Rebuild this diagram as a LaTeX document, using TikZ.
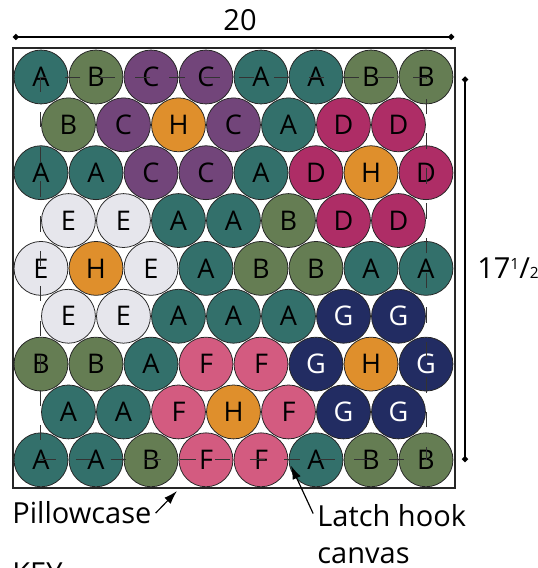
\documentclass[tikz,border=0pt]{standalone}
\usepackage{fontspec}
\setmainfont{Open Sans}
\usetikzlibrary{arrows.meta}

\definecolor{yarnA}{HTML}{33706B}
\definecolor{yarnB}{HTML}{657D53}
\definecolor{yarnC}{HTML}{72457A}
\definecolor{yarnD}{HTML}{AE2D66}
\definecolor{yarnE}{HTML}{E6E6EC}
\definecolor{yarnF}{HTML}{D35B80}
\definecolor{yarnG}{HTML}{222C62}
\definecolor{yarnH}{HTML}{DF8F2C}

\tikzset{
  bead/.style={circle, draw=black!85, line width=0.4pt, minimum size=0.98cm,
    inner sep=0pt, font=\fontsize{14}{16}\selectfont},
  beadA/.style={fill=yarnA},
  beadB/.style={fill=yarnB},
  beadC/.style={fill=yarnC},
  beadD/.style={fill=yarnD},
  beadE/.style={fill=yarnE},
  beadF/.style={fill=yarnF},
  beadG/.style={fill=yarnG, text=white},
  beadH/.style={fill=yarnH},
  canvas/.style={draw=black!80, line width=0.5pt, dash pattern=on 8pt off 10pt},
  case/.style={draw=black!85, line width=0.8pt},
  dim/.style={line width=1pt, {Circle[length=3pt]}-{Circle[length=3pt]}},
  pointer/.style={line width=0.6pt, -{Latex[length=7pt,width=4.5pt]}},
  tag/.style={font=\fontsize{15}{19}\selectfont, inner sep=2pt}
}

\begin{document}
\begin{tikzpicture}
  \useasboundingbox (0,0) rectangle (9.764,10.327);
  % beads, row by row
  \foreach \row [count=\i from 0] in {{A,B,C,C,A,A,B,B},{B,C,H,C,A,D,D},
      {A,A,C,C,A,D,H,D},{E,E,A,A,B,D,D},{E,H,E,A,B,B,A,A},{E,E,A,A,A,G,G},
      {B,B,A,F,F,G,H,G},{A,A,F,H,F,G,G},{A,A,B,F,F,A,B,B}}{
    \pgfmathsetmacro\xo{0.745+0.5*mod(\i,2)}
    \pgfmathsetmacro\yo{8.927-0.87*\i}
    \foreach \c [count=\j from 0] in \row
      \node[bead, bead\c] (b-\i-\j) at (\xo+\j,\yo) {\c};
  }
  % latch hook canvas
  \draw[canvas] (b-0-0.center) rectangle (b-8-7.center);
  % pillowcase
  \coordinate (case-sw) at (0.236,1.455);
  \coordinate (case-ne) at (8.273,9.455);
  \draw[case] (case-sw) rectangle (case-ne);
  % dimensions
  \coordinate (top-l) at (0.236,9.655);
  \coordinate (top-r) at (8.255,9.655);
  \draw[dim] (top-l) -- (top-r);
  \node[tag] (width) at (4.364,9.955) {20};
  \coordinate (side-t) at (8.455,8.933);
  \coordinate (side-b) at (8.455,1.927);
  \draw[dim] (side-t) -- (side-b);
  \node[tag, anchor=base west, inner sep=0pt] (height) at (8.67,5.255)
    {17\raisebox{5pt}{\fontsize{8}{8}\selectfont 1}/{\fontsize{8}{8}\selectfont 2}};
  % callouts
  \node[tag, anchor=base west] (pillow) at (0.148,0.8) {Pillowcase};
  \coordinate (case-tip) at (3.218,1.4);
  \draw[pointer] (pillow.east) -- (case-tip);
  \node[tag, anchor=base west, align=left] (latch) at (5.694,0.09) {Latch hook\\canvas};
  \coordinate (canvas-tip) at (5.29,1.86);
  \draw[pointer] ([yshift=-7pt]latch.north west) -- (canvas-tip);
  \node[tag, anchor=base west] (key) at (0.148,-0.29) {KEY};
\end{tikzpicture}
\end{document}
